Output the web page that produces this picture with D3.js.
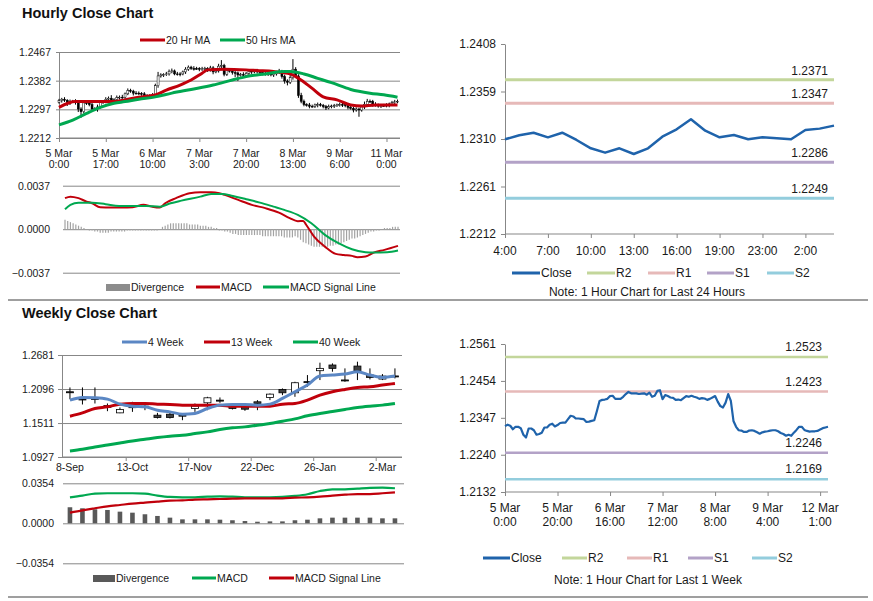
<!DOCTYPE html>
<html lang="en">
<head>
  <meta charset="UTF-8" />
  <title>Hourly / Weekly Close Chart</title>
  <script src="https://cdn.jsdelivr.net/npm/d3@7"></script>
  <style>
    body, html { margin: 0; padding: 0; background: #fff; }
    svg { display: block; }
  </style>
</head>
<body>
  <svg id="chart" width="873" height="601"></svg>

  <script>
    // ---------- hourly data: 124 one-hour bars, 5 Mar 0:00 -> 12 Mar ----------
    const hourClose = [
      1.2323,1.2327,1.2324,1.2314,1.2321,1.2321,1.2317,1.2298,1.2290,1.2316,
      1.2316,1.2311,1.2298,1.2300,1.2304,1.2319,1.2319,1.2327,1.2330,1.2322,
      1.2326,1.2332,1.2333,1.2333,1.2343,1.2353,1.2351,1.2345,1.2345,1.2344,
      1.2343,1.2335,1.2336,1.2338,1.2340,1.2367,1.2396,1.2399,1.2400,1.2402,
      1.2410,1.2411,1.2402,1.2402,1.2402,1.2408,1.2416,1.2422,1.2418,1.2418,
      1.2418,1.2416,1.2417,1.2418,1.2414,1.2420,1.2408,1.2411,1.2425,1.2427,
      1.2401,1.2413,1.2410,1.2406,1.2405,1.2399,1.2400,1.2398,1.2404,1.2410,
      1.2408,1.2411,1.2408,1.2406,1.2402,1.2404,1.2403,1.2399,1.2402,1.2406,
      1.2410,1.2394,1.2381,1.2377,1.2391,1.2416,1.2396,1.2338,1.2321,1.2311,
      1.2310,1.2306,1.2306,1.2310,1.2311,1.2309,1.2305,1.2301,1.2305,1.2307,
      1.2308,1.2310,1.2311,1.2311,1.2308,1.2303,1.2300,1.2295,1.2298,1.2295,
      1.2304,1.2312,1.2321,1.2321,1.2312,1.2309,1.2307,1.2308,1.2308,1.2309,
      1.2313,1.2317,1.2319,1.2321
    ];
    const firstOpen = 1.2318;
    // wick length above / below the candle body, in pips
    const hourHighPips = [
      5,4,6,3,5,4,6,4,5,8, 4,5,6,3,7,5,4,6,5,9, 4,6,5,7,4,6,5,4,6,5,
      4,5,6,4,5,6,12,5,4,6, 5,7,4,6,5,4,6,5,4,7, 5,4,6,5,4,6,5,4,7,16,
      5,6,4,5,6,4,5,7,4,6, 5,4,6,5,4,6,5,4,6,5, 7,4,6,5,9,30,6,5,8,5,
      4,6,5,4,6,5,4,5,6,4, 5,4,6,5,4,5,6,4,5,4, 6,8,7,5,4,6,5,4,5,6,
      4,5,6,5
    ];
    const hourLowPips = [
      4,6,5,7,4,5,6,9,18,5, 6,5,7,4,10,5,6,4,5,6, 5,4,6,5,6,4,5,7,4,5,
      6,4,5,7,5,4,6,5,6,4, 5,6,4,5,7,4,6,5,4,6, 4,6,5,4,6,5,7,4,5,6,
      6,5,4,6,12,18,5,6,4,5, 6,4,5,6,4,5,7,4,6,5, 4,6,8,9,5,6,5,7,6,5,
      5,6,4,5,7,4,5,6,4,5, 6,4,5,7,5,6,4,7,5,20, 5,6,4,5,7,4,5,6,4,5,
      6,4,5,4
    ];
    // moving averages as [bar index, value]
    const ma20 = [[0,1.2303],[6,1.2320],[15,1.2320],[20,1.2320],[24,1.2325],[29,1.2333],[35,1.2340],
      [39,1.2354],[44,1.2369],[48,1.2384],[52,1.2404],[54,1.2414],[60,1.2416],[68,1.2414],[72,1.2412],
      [78,1.2409],[84,1.2402],[87,1.2389],[92,1.2359],[96,1.2334],[101,1.2325],[106,1.2310],
      [110,1.2307],[115,1.2310],[123,1.2310]];
    const ma50 = [[0,1.2251],[5,1.2265],[10,1.2285],[15,1.2303],[20,1.2315],[24,1.2320],[29,1.2327],
      [35,1.2334],[41,1.2345],[48,1.2356],[56,1.2369],[63,1.2384],[68,1.2394],[75,1.2402],[82,1.2409],
      [84,1.2409],[89,1.2402],[94,1.2389],[99,1.2376],[106,1.2356],[113,1.2345],[118,1.2340],[123,1.2333]];
    const hourTicks = [1.2212, 1.2297, 1.2382, 1.2467];
    const hourLabelIdx = [0, 17, 34, 51, 68, 85, 102, 119];
    const hourLabels = [["5 Mar","0:00"],["5 Mar","17:00"],["6 Mar","10:00"],["7 Mar","3:00"],
      ["7 Mar","20:00"],["8 Mar","13:00"],["9 Mar","6:00"],["11 Mar","0:00"]];

    // hourly MACD
    const hourDiv = [
      0.0008,0.0007,0.0006,0.0005,0.0004,0.0003,0.0002,0.0001,0.0000,-0.0001,
      -0.0001,-0.0002,-0.0002,-0.0003,-0.0003,-0.0003,-0.0003,-0.0002,-0.0002,-0.0002,
      -0.0002,-0.0002,-0.0002,-0.0001,-0.0001,-0.0001,-0.0001,-0.0001,-0.0001,-0.0001,
      -0.0001,-0.0001,-0.0001,-0.0001,-0.0001,0.0000,0.0002,0.0003,0.0004,0.0005,
      0.0005,0.0005,0.0005,0.0005,0.0005,0.0005,0.0004,0.0004,0.0004,0.0004,
      0.0003,0.0003,0.0003,0.0002,0.0002,0.0001,0.0001,-0.0001,-0.0001,-0.0002,
      -0.0002,-0.0003,-0.0004,-0.0004,-0.0005,-0.0005,-0.0005,-0.0005,-0.0005,-0.0005,
      -0.0005,-0.0005,-0.0005,-0.0006,-0.0006,-0.0006,-0.0006,-0.0006,-0.0006,-0.0006,
      -0.0006,-0.0007,-0.0007,-0.0007,-0.0007,-0.0006,-0.0007,-0.0009,-0.0011,-0.0012,
      -0.0013,-0.0014,-0.0015,-0.0015,-0.0015,-0.0015,-0.0015,-0.0015,-0.0014,-0.0014,
      -0.0013,-0.0013,-0.0012,-0.0011,-0.0010,-0.0009,-0.0008,-0.0008,-0.0007,-0.0006,
      -0.0005,-0.0004,-0.0003,-0.0002,-0.0002,-0.0001,-0.0001,0.0000,0.0001,0.0001,
      0.0001,0.0002,0.0002,0.0002
    ];
    const hourMacd = [[0,0.00264],[2,0.00277],[5,0.00264],[8,0.00235],[10,0.00221],[13,0.00187],[17,0.00184],
      [21,0.00184],[25,0.00187],[29,0.00207],[32,0.00192],[35,0.00184],[37,0.00221],[41,0.00264],[46,0.00306],
      [50,0.00315],[54,0.00315],[57,0.00306],[59,0.00292],[64,0.00249],[69,0.00207],[74,0.00179],[79,0.00141],
      [83,0.00094],[86,0.00068],[88,0.00070],[89,0.00040],[92,-0.00063],[96,-0.00148],[100,-0.00210],
      [103,-0.00219],[106,-0.00227],[108,-0.00238],[111,-0.00233],[114,-0.00199],[118,-0.00176],[123,-0.00142]];
    const hourSignal = [[0,0.00170],[2,0.00207],[5,0.00226],[10,0.00226],[15,0.00213],[20,0.00198],[25,0.00198],
      [30,0.00198],[35,0.00192],[39,0.00221],[43,0.00243],[50,0.00277],[54,0.00300],[58,0.00300],[62,0.00283],
      [67,0.00255],[72,0.00226],[77,0.00192],[81,0.00164],[86,0.00122],[91,0.00051],[96,-0.00048],
      [101,-0.00119],[106,-0.00170],[111,-0.00196],[114,-0.00199],[119,-0.00196],[123,-0.00182]];
    const hourMacdTicks = [-0.0037, 0.0000, 0.0037];

    // ---------- weekly data ----------
    const weeks = ["8-Sep","15-Sep","22-Sep","29-Sep","6-Oct","13-Oct","20-Oct","27-Oct","3-Nov","10-Nov",
      "17-Nov","24-Nov","1-Dec","8-Dec","15-Dec","22-Dec","29-Dec","5-Jan","12-Jan","19-Jan",
      "26-Jan","2-Feb","9-Feb","16-Feb","23-Feb","2-Mar","9-Mar"];
    const weekOpen  = [1.2049,1.1925,1.1934,1.1778,1.1686,1.1792,1.1801,1.1646,1.1663,1.1646,1.1761,1.1859,1.1905,1.1801,
      1.1790,1.1876,1.1951,1.2089,1.2031,1.2223,1.2411,1.2509,1.2252,1.2491,1.2336,1.2267,1.2321];
    const weekHigh  = [1.2123,1.2123,1.2123,1.1847,1.1778,1.1876,1.1847,1.1686,1.1692,1.1675,1.1847,1.1962,1.1951,1.1847,
      1.1836,1.1905,1.2020,1.2106,1.2221,1.2336,1.2549,1.2537,1.2451,1.2566,1.2451,1.2353,1.2451];
    const weekLow   = [1.1922,1.1830,1.1847,1.1715,1.1680,1.1703,1.1732,1.1588,1.1588,1.1560,1.1703,1.1732,1.1859,1.1744,
      1.1721,1.1732,1.1905,1.1991,1.1962,1.2135,1.2250,1.2394,1.2221,1.2250,1.2261,1.2250,1.2278];
    const weekClose = [1.2045,1.1920,1.1930,1.1813,1.1744,1.1788,1.1790,1.1606,1.1606,1.1640,1.1801,1.1945,1.1900,1.1761,
      1.1749,1.1847,1.2008,1.2031,1.2204,1.2219,1.2451,1.2451,1.2248,1.2405,1.2296,1.2319,1.2317];
    const ma4w  = [1.1905,1.1951,1.1945,1.1922,1.1836,1.1801,1.1790,1.1732,1.1703,1.1663,1.1675,1.1761,1.1819,1.1830,
      1.1830,1.1819,1.1836,1.1934,1.2049,1.2164,1.2319,1.2336,1.2353,1.2394,1.2336,1.2296,1.2319];
    const ma13w = [1.1629,1.1686,1.1761,1.1790,1.1836,1.1847,1.1847,1.1836,1.1830,1.1819,1.1819,1.1819,1.1819,1.1801,
      1.1801,1.1801,1.1801,1.1836,1.1847,1.1905,1.1991,1.2049,1.2089,1.2123,1.2135,1.2164,1.2192];
    const ma40w = [1.1031,1.1059,1.1100,1.1134,1.1169,1.1203,1.1232,1.1261,1.1284,1.1301,1.1330,1.1359,1.1399,1.1428,
      1.1445,1.1474,1.1502,1.1543,1.1583,1.1635,1.1675,1.1709,1.1744,1.1778,1.1801,1.1819,1.1847];
    const weekTicks = [1.0927, 1.1511, 1.2096, 1.2681];
    const weekLabelIdx = [0, 5, 10, 15, 20, 25];

    const weekDiv    = [0.0142,0.0133,0.0124,0.0118,0.0103,0.0094,0.0080,0.0065,0.0050,0.0035,0.0035,0.0035,0.0032,0.0027,
      0.0020,0.0014,0.0017,0.0017,0.0027,0.0032,0.0044,0.0050,0.0050,0.0050,0.0050,0.0044,0.0044];
    const weekMacd   = [0.0230,0.0245,0.0263,0.0266,0.0266,0.0266,0.0263,0.0245,0.0233,0.0230,0.0230,0.0236,0.0239,0.0236,
      0.0230,0.0230,0.0230,0.0233,0.0242,0.0257,0.0286,0.0301,0.0301,0.0307,0.0313,0.0315,0.0310];
    const weekSignal = [0.0094,0.0115,0.0133,0.0150,0.0162,0.0174,0.0183,0.0192,0.0200,0.0203,0.0209,0.0212,0.0215,0.0218,
      0.0221,0.0221,0.0221,0.0221,0.0227,0.0230,0.0236,0.0245,0.0253,0.0259,0.0259,0.0266,0.0274];
    const weekMacdTicks = [-0.0354, 0.0000, 0.0354];

    // ---------- support / resistance: last 24 hours ----------
    const hours24 = ["4:00","5:00","6:00","7:00","8:00","9:00","10:00","11:00","12:00","13:00","14:00","15:00",
      "16:00","17:00","18:00","19:00","21:00","22:00","23:00","0:00","1:00","2:00","3:00","4:00"];
    const close24 = [1.23097,1.23138,1.23165,1.23117,1.23165,1.23090,1.23004,1.22959,1.23004,1.22945,1.23004,1.23124,
      1.23200,1.23303,1.23186,1.23117,1.23141,1.23097,1.23117,1.23107,1.23097,1.23193,1.23207,1.23238];
    const levels24 = [["R2",1.2371],["R1",1.2347],["S1",1.2286],["S2",1.2249]];
    const ticks24 = [1.2212, 1.2261, 1.2310, 1.2359, 1.2408];

    // ---------- support / resistance: last week (same hourly closes) ----------
    const levelsWk = [["R2",1.2523],["R1",1.2423],["S1",1.2246],["S2",1.2169]];
    const ticksWk = [1.2132, 1.2240, 1.2347, 1.2454, 1.2561];
    const wkLabelIdx = [0, 20, 40, 60, 80, 100, 120];
    const wkLabels = [["5 Mar","0:00"],["5 Mar","20:00"],["6 Mar","16:00"],["7 Mar","12:00"],
      ["8 Mar","8:00"],["9 Mar","4:00"],["12 Mar","1:00"]];

    // ---------- styling ----------
    const FONT = '"Liberation Sans", Arial, Helvetica, sans-serif';
    const GRID = '#878787', TXT = '#1a1a1a';
    const RED = '#c0000b', GREEN = '#00a850', BLUE4 = '#5b87c4', CLOSE = '#1f63ab';
    const LVL = { R2: '#c3d69b', R1: '#e6b9b8', S1: '#b3a2c7', S2: '#93cddd' };
    const PIP = 0.0001;

    const svg = d3.select('#chart').attr('font-family', FONT);
    svg.append('rect').attr('width', 873).attr('height', 601).attr('fill', '#fff');

    // helpers
    function hline(g, x0, x1, y, color, w) {
      g.append('line').attr('x1', x0).attr('x2', x1).attr('y1', y).attr('y2', y)
        .attr('stroke', color).attr('stroke-width', w || 1);
    }
    function grid(g, y, ticks, x0, x1) {
      g.append('g').attr('transform', `translate(${x0},0)`)
        .call(d3.axisLeft(y).tickValues(ticks).tickSize(-(x1 - x0)).tickFormat(''))
        .call(a => { a.select('.domain').remove(); a.selectAll('line').attr('stroke', GRID); });
    }
    function yAxis(g, y, ticks, x, size, tick, pad, line) {
      g.append('g').attr('transform', `translate(${x},0)`)
        .call(d3.axisLeft(y).tickValues(ticks).tickFormat(d3.format('.4f'))
          .tickSize(tick).tickSizeOuter(0).tickPadding(pad))
        .call(a => {
          a.attr('font-family', FONT).attr('font-size', size);
          a.select('.domain').attr('stroke', line ? GRID : 'none');
          a.selectAll('line').attr('stroke', GRID);
          a.selectAll('text').attr('fill', TXT);
        });
    }
    function xTicks(g, x, idx, y, x0, x1) {
      hline(g, x0, x1, y, GRID);
      g.append('g').attr('transform', `translate(0,${y})`)
        .call(d3.axisBottom(x).tickValues(idx).tickSize(4).tickSizeOuter(0).tickFormat(''))
        .call(a => { a.select('.domain').remove(); a.selectAll('line').attr('stroke', GRID); });
    }
    function twoLine(g, x, idx, labels, y, lh, size) {
      idx.forEach((d, k) => {
        const t = g.append('text').attr('text-anchor', 'middle').attr('font-size', size)
          .attr('fill', TXT).attr('y', y);
        t.append('tspan').attr('x', x(d)).text(labels[k][0]);
        t.append('tspan').attr('x', x(d)).attr('dy', lh).text(labels[k][1]);
      });
    }
    function legLine(g, x, len, y, color, label, size, w) {
      hline(g, x, x + len, y, color, w || 3);
      g.append('text').attr('x', x + len + 1).attr('y', y).attr('dy', '0.35em')
        .attr('font-size', size).attr('fill', TXT).text(label);
    }
    function legBox(g, x, len, y, color, label, size) {
      g.append('rect').attr('x', x).attr('y', y - 3).attr('width', len).attr('height', 7).attr('fill', color);
      g.append('text').attr('x', x + len + 1).attr('y', y).attr('dy', '0.35em')
        .attr('font-size', size).attr('fill', TXT).text(label);
    }
    const pairLine = (x, y) => d3.line().x(d => x(d[0])).y(d => y(d[1])).curve(d3.curveMonotoneX);

    // ---------- titles and separators ----------
    svg.append('text').attr('x', 22).attr('y', 18).attr('font-size', 14.5).attr('font-weight', 'bold')
      .attr('fill', '#111').text('Hourly Close Chart');
    svg.append('text').attr('x', 22).attr('y', 318).attr('font-size', 14.5).attr('font-weight', 'bold')
      .attr('fill', '#111').text('Weekly Close Chart');
    hline(svg, 8, 868, 300, '#7f7f7f', 1.5);
    hline(svg, 8, 868, 597, '#7f7f7f', 1.5);

    // ---------- panel 1: hourly candles + MAs ----------
    const p1 = svg.append('g');
    const x1 = d3.scalePoint().domain(d3.range(hourClose.length)).range([59, 397.5]);
    const y1 = d3.scaleLinear().domain([1.2212, 1.2467]).range([138, 52]);
    grid(p1, y1, hourTicks, 59, 400);
    yAxis(p1, y1, hourTicks, 59, 10.5, 3, 5, true);
    xTicks(p1, x1, hourLabelIdx, 138, 59, 400);
    twoLine(p1, x1, hourLabelIdx, hourLabels, 157, 11, 10.5);

    const hourOpen = [firstOpen].concat(hourClose.slice(0, -1));
    const hBars = hourClose.map((c, i) => {
      const o = hourOpen[i];
      return { i, o, c, hi: Math.max(o, c) + hourHighPips[i] * PIP, lo: Math.min(o, c) - hourLowPips[i] * PIP };
    });
    const hc = p1.append('g');
    hc.selectAll('line').data(hBars).join('line')
      .attr('x1', d => x1(d.i)).attr('x2', d => x1(d.i))
      .attr('y1', d => y1(d.hi)).attr('y2', d => y1(d.lo))
      .attr('stroke', '#000').attr('stroke-width', 1);
    hc.selectAll('rect').data(hBars).join('rect')
      .attr('x', d => x1(d.i) - 1).attr('width', 2)
      .attr('y', d => y1(Math.max(d.o, d.c)))
      .attr('height', d => Math.max(0.8, Math.abs(y1(d.o) - y1(d.c))))
      .attr('fill', d => d.c > d.o ? '#fff' : '#000').attr('stroke', '#000').attr('stroke-width', 0.5);

    p1.append('path').datum(ma20).attr('d', pairLine(x1, y1)).attr('fill', 'none')
      .attr('stroke', RED).attr('stroke-width', 3);
    p1.append('path').datum(ma50).attr('d', pairLine(x1, y1)).attr('fill', 'none')
      .attr('stroke', GREEN).attr('stroke-width', 3);
    legLine(p1, 140, 25, 40, RED, '20 Hr MA', 10.5);
    legLine(p1, 220, 25, 40, GREEN, '50 Hrs MA', 10.5);

    // ---------- panel 2: hourly MACD ----------
    const p2 = svg.append('g');
    const x2 = d3.scalePoint().domain(d3.range(hourDiv.length)).range([65, 398]);
    const y2 = d3.scaleLinear().domain([-0.0037, 0.0037]).range([272.7, 185.7]);
    grid(p2, y2, hourMacdTicks, 63, 400);
    yAxis(p2, y2, hourMacdTicks, 63, 10.5, 0, 13, false);
    p2.append('g').selectAll('line').data(hourDiv).join('line')
      .attr('x1', (d, i) => x2(i)).attr('x2', (d, i) => x2(i))
      .attr('y1', y2(0)).attr('y2', d => y2(d))
      .attr('stroke', '#a3a3a3').attr('stroke-width', 1.2);
    p2.append('path').datum(hourMacd).attr('d', pairLine(x2, y2)).attr('fill', 'none')
      .attr('stroke', RED).attr('stroke-width', 2);
    p2.append('path').datum(hourSignal).attr('d', pairLine(x2, y2)).attr('fill', 'none')
      .attr('stroke', GREEN).attr('stroke-width', 2);
    legBox(p2, 106, 24, 287, '#8c8c8c', 'Divergence', 10.5);
    legLine(p2, 196, 24, 287, RED, 'MACD', 10.5);
    legLine(p2, 263, 26, 287, GREEN, 'MACD Signal Line', 10.5);

    // ---------- panel 3: weekly candles + MAs ----------
    const p3 = svg.append('g');
    const xw = d3.scaleBand().domain(d3.range(weeks.length)).range([63.7, 401.2]);
    const cx = i => xw(i) + xw.bandwidth() / 2;
    const y3 = d3.scaleLinear().domain([1.0927, 1.2681]).range([457, 355]);
    grid(p3, y3, weekTicks, 62, 402);
    yAxis(p3, y3, weekTicks, 62, 10.5, 4, 4, true);
    hline(p3, 62, 402, 457, GRID);
    weekLabelIdx.slice(1).forEach(i => {
      p3.append('line').attr('x1', xw(i)).attr('x2', xw(i)).attr('y1', 457).attr('y2', 461).attr('stroke', GRID);
    });
    weekLabelIdx.forEach(i => {
      p3.append('text').attr('x', cx(i)).attr('y', 471).attr('text-anchor', 'middle')
        .attr('font-size', 10.5).attr('fill', TXT).text(weeks[i]);
    });
    const wBars = weeks.map((w, i) => ({ i, o: weekOpen[i], h: weekHigh[i], l: weekLow[i], c: weekClose[i] }));
    const wc = p3.append('g');
    wc.selectAll('line').data(wBars).join('line')
      .attr('x1', d => cx(d.i)).attr('x2', d => cx(d.i))
      .attr('y1', d => y3(d.h)).attr('y2', d => y3(d.l))
      .attr('stroke', '#000').attr('stroke-width', 1);
    wc.selectAll('rect').data(wBars).join('rect')
      .attr('x', d => cx(d.i) - 3.5).attr('width', 7)
      .attr('y', d => y3(Math.max(d.o, d.c)))
      .attr('height', d => Math.max(1, Math.abs(y3(d.o) - y3(d.c))))
      .attr('fill', d => d.c > d.o ? '#fff' : '#3f3f3f').attr('stroke', '#000').attr('stroke-width', 0.8);
    const wLine = d3.line().x((d, i) => cx(i)).y(d => y3(d)).curve(d3.curveMonotoneX);
    [[ma40w, GREEN], [ma13w, RED], [ma4w, BLUE4]].forEach(([s, col]) => {
      p3.append('path').datum(s).attr('d', wLine).attr('fill', 'none').attr('stroke', col).attr('stroke-width', 3);
    });
    legLine(p3, 122, 25, 342, BLUE4, '4 Week', 10.5);
    legLine(p3, 204, 26, 342, RED, '13 Week', 10.5);
    legLine(p3, 293, 25, 342, GREEN, '40 Week', 10.5);

    // ---------- panel 4: weekly MACD ----------
    const p4 = svg.append('g');
    const y4 = d3.scaleLinear().domain([-0.0354, 0.0354]).range([563.3, 483.3]);
    grid(p4, y4, weekMacdTicks, 63, 404);
    yAxis(p4, y4, weekMacdTicks, 63, 10.5, 0, 9, false);
    p4.append('g').selectAll('rect').data(weekDiv).join('rect')
      .attr('x', (d, i) => cx(i) - 2.3).attr('width', 4.6)
      .attr('y', d => y4(Math.max(0, d))).attr('height', d => Math.abs(y4(d) - y4(0)))
      .attr('fill', '#595959');
    const mLine = d3.line().x((d, i) => cx(i)).y(d => y4(d)).curve(d3.curveMonotoneX);
    p4.append('path').datum(weekMacd).attr('d', mLine).attr('fill', 'none').attr('stroke', GREEN).attr('stroke-width', 2.2);
    p4.append('path').datum(weekSignal).attr('d', mLine).attr('fill', 'none').attr('stroke', RED).attr('stroke-width', 2.2);
    legBox(p4, 93, 22, 578, '#595959', 'Divergence', 10.5);
    legLine(p4, 192, 24, 578, GREEN, 'MACD', 10.5);
    legLine(p4, 269, 25, 578, RED, 'MACD Signal Line', 10.5);

    // ---------- panel 5: 24 hours with pivots ----------
    const p5 = svg.append('g');
    const x5 = d3.scalePoint().domain(d3.range(hours24.length)).range([505, 834]);
    const y5 = d3.scaleLinear().domain([1.2212, 1.2408]).range([234, 44]);
    yAxis(p5, y5, ticks24, 505, 12, 4, 5, true);
    const idx24 = d3.range(0, hours24.length, 3);
    xTicks(p5, x5, idx24, 234, 505, 834);
    idx24.forEach(i => {
      p5.append('text').attr('x', x5(i)).attr('y', 255).attr('text-anchor', 'middle')
        .attr('font-size', 12).attr('fill', TXT).text(hours24[i]);
    });
    levels24.forEach(([k, v]) => {
      hline(p5, 505, 834, y5(v), LVL[k], 3);
      p5.append('text').attr('x', 828).attr('y', y5(v) - 5).attr('text-anchor', 'end')
        .attr('font-size', 12).attr('fill', TXT).text(v.toFixed(4));
    });
    p5.append('path').datum(close24)
      .attr('d', d3.line().x((d, i) => x5(i)).y(d => y5(d)))
      .attr('fill', 'none').attr('stroke', CLOSE).attr('stroke-width', 2.5).attr('stroke-linejoin', 'round');
    legLine(p5, 512, 28, 273, CLOSE, 'Close', 12);
    legLine(p5, 587, 28, 273, LVL.R2, 'R2', 12);
    legLine(p5, 648, 27, 273, LVL.R1, 'R1', 12);
    legLine(p5, 707, 27, 273, LVL.S1, 'S1', 12);
    legLine(p5, 767, 27, 273, LVL.S2, 'S2', 12);
    p5.append('text').attr('x', 647).attr('y', 296).attr('text-anchor', 'middle')
      .attr('font-size', 12).attr('fill', TXT).text('Note: 1 Hour Chart for Last 24 Hours');

    // ---------- panel 6: last week with pivots ----------
    const p6 = svg.append('g');
    const x6 = d3.scalePoint().domain(d3.range(hourClose.length)).range([505, 828]);
    const y6 = d3.scaleLinear().domain([1.2132, 1.2561]).range([492, 344]);
    yAxis(p6, y6, ticksWk, 505, 12, 4, 5, true);
    xTicks(p6, x6, wkLabelIdx, 492, 505, 828);
    twoLine(p6, x6, wkLabelIdx, wkLabels, 512, 13.5, 12);
    levelsWk.forEach(([k, v]) => {
      hline(p6, 505, 828, y6(v), LVL[k], 2.5);
      p6.append('text').attr('x', 822).attr('y', y6(v) - 6).attr('text-anchor', 'end')
        .attr('font-size', 12).attr('fill', TXT).text(v.toFixed(4));
    });
    p6.append('path').datum(hourClose)
      .attr('d', d3.line().x((d, i) => x6(i)).y(d => y6(d)))
      .attr('fill', 'none').attr('stroke', CLOSE).attr('stroke-width', 2.2).attr('stroke-linejoin', 'round');
    legLine(p6, 483, 27, 558, CLOSE, 'Close', 12);
    legLine(p6, 562, 25, 558, LVL.R2, 'R2', 12);
    legLine(p6, 627, 25, 558, LVL.R1, 'R1', 12);
    legLine(p6, 688, 25, 558, LVL.S1, 'S1', 12);
    legLine(p6, 752, 25, 558, LVL.S2, 'S2', 12);
    p6.append('text').attr('x', 648).attr('y', 584).attr('text-anchor', 'middle')
      .attr('font-size', 12).attr('fill', TXT).text('Note: 1 Hour Chart for Last 1 Week');
  </script>
</body>
</html>
